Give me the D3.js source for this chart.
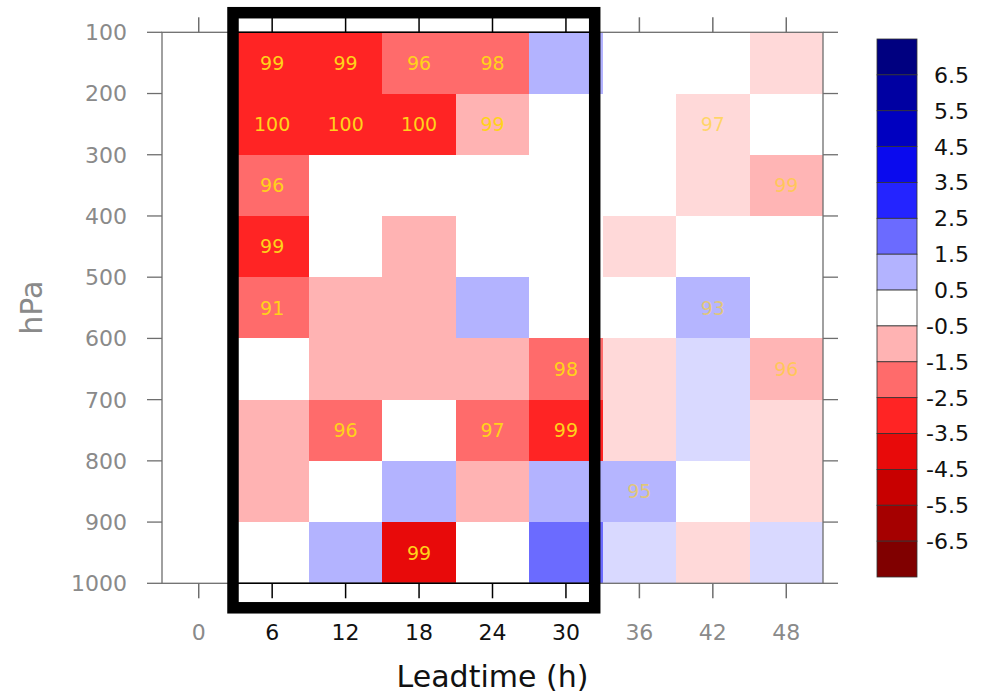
<!DOCTYPE html>
<html>
<head>
<meta charset="utf-8">
<script src="https://d3js.org/d3.v7.min.js"></script>
<style>
  body { margin: 0; background: #fff; }
  svg { display: block; font-family: "DejaVu Sans", sans-serif; }
</style>
</head>
<body>
<svg></svg>
<script>
var leadtimes = [6, 12, 18, 24, 30, 36, 42, 48];
var xTicks = [0, 6, 12, 18, 24, 30, 36, 42, 48];
var pressures = [100, 200, 300, 400, 500, 600, 700, 800, 900, 1000];

// difference class per cell, rows = layers 100-200 ... 900-1000 hPa
var diff = [
  [-3, -3, -2, -2,  1,  0,  0, -1],
  [-3, -3, -3, -1,  0,  0, -1,  0],
  [-2,  0,  0,  0,  0,  0, -1, -2],
  [-3,  0, -1,  0,  0, -1,  0,  0],
  [-2, -1, -1,  1,  0,  0,  2,  0],
  [ 0, -1, -1, -1, -2, -1,  1, -2],
  [-1, -2,  0, -2, -3, -1,  1, -1],
  [-1,  0,  1, -1,  1,  2,  0, -1],
  [ 0,  1, -4,  0,  2,  1, -1,  1]
];

// significance (%) printed in cells
var signif = [
  [99, 99, 96, 98, null, null, null, null],
  [100, 100, 100, 99, null, null, 97, null],
  [96, null, null, null, null, null, null, 99],
  [99, null, null, null, null, null, null, null],
  [91, null, null, null, null, null, 93, null],
  [null, null, null, null, 98, null, null, 96],
  [null, 96, null, 97, 99, null, null, null],
  [null, null, null, null, null, 95, null, null],
  [null, null, 99, null, null, null, null, null]
];

var cbLevels = [6.5, 5.5, 4.5, 3.5, 2.5, 1.5, 0.5, -0.5, -1.5, -2.5, -3.5, -4.5, -5.5, -6.5];
var cbColors = ["#000080", "#0000a2", "#0000c0", "#0a0aee", "#2424ff", "#6b6bff", "#b3b3ff", "#ffffff",
                "#ffb3b3", "#ff6b6b", "#ff2424", "#e80a0a", "#c80000", "#a50000", "#800000"];

// highlighted window (leadtime h, hPa)
var boxHours = [2.8, 32.35];
var boxPres = [68, 1040];

var svg = d3.select("svg")
    .attr("width", 989)
    .attr("height", 696);

var x = d3.scaleLinear()
    .domain([-3, 51])
    .range([162, 823]);
var y = d3.scaleLinear()
    .domain([100, 1000])
    .range([32.3, 583.3]);

var color = d3.scaleThreshold()
    .domain(cbLevels.slice().reverse())
    .range(cbColors.slice().reverse());

function inBox(h) {
    return h >= boxHours[0] && h <= boxHours[1];
}

var cells = [];
diff.forEach(function(row, i) {
    row.forEach(function(v, j) {
        cells.push({ lt: leadtimes[j], p0: pressures[i], p1: pressures[i + 1], v: v, s: signif[i][j] });
    });
});

svg.append("g")
    .attr("shape-rendering", "crispEdges")
    .selectAll("rect")
    .data(cells)
    .enter().append("rect")
    .attr("x", function(d) { return x(d.lt - 3); })
    .attr("y", function(d) { return y(d.p0); })
    .attr("width", x(6) - x(0))
    .attr("height", y(200) - y(100))
    .attr("fill", function(d) { return color(d.v); })
    .attr("fill-opacity", function(d) { return inBox(d.lt) ? 1 : 0.5; });

svg.append("g")
    .selectAll("text")
    .data(cells.filter(function(d) { return d.s !== null; }))
    .enter().append("text")
    .attr("x", function(d) { return x(d.lt); })
    .attr("y", function(d) { return y((d.p0 + d.p1) / 2); })
    .attr("dy", "0.36em")
    .attr("text-anchor", "middle")
    .style("font-size", "19px")
    .attr("fill", "#ffd21a")
    .attr("fill-opacity", function(d) { return inBox(d.lt) ? 1 : 0.6; })
    .text(function(d) { return d.s; });

// frame
var frame = "#6e6e6e";
svg.append("rect")
    .attr("x", x(-3))
    .attr("y", y(100))
    .attr("width", x(51) - x(-3))
    .attr("height", y(1000) - y(100))
    .attr("fill", "none")
    .attr("stroke", frame)
    .attr("stroke-width", 1.3);

[y(100), y(1000)].forEach(function(yy) {
    svg.append("line")
        .attr("x1", x(boxHours[0])).attr("x2", x(boxHours[1]))
        .attr("y1", yy).attr("y2", yy)
        .attr("stroke", "#000")
        .attr("stroke-width", 1.5);
});

// x ticks top and bottom
var tickLen = 15;
xTicks.forEach(function(t) {
    var c = inBox(t) ? "#000" : frame;
    svg.append("line")
        .attr("x1", x(t)).attr("x2", x(t))
        .attr("y1", y(1000)).attr("y2", y(1000) + tickLen)
        .attr("stroke", c).attr("stroke-width", 1.5);
    svg.append("line")
        .attr("x1", x(t)).attr("x2", x(t))
        .attr("y1", y(100)).attr("y2", y(100) - tickLen)
        .attr("stroke", c).attr("stroke-width", 1.5);
    svg.append("text")
        .attr("x", x(t))
        .attr("y", 640)
        .attr("text-anchor", "middle")
        .style("font-size", "22px")
        .attr("fill", inBox(t) ? "#111" : "#8a8a8a")
        .text(t);
});

// y ticks left and right
pressures.forEach(function(p) {
    svg.append("line")
        .attr("x1", x(-3) - tickLen).attr("x2", x(-3))
        .attr("y1", y(p)).attr("y2", y(p))
        .attr("stroke", frame).attr("stroke-width", 1.3);
    svg.append("line")
        .attr("x1", x(51)).attr("x2", x(51) + tickLen)
        .attr("y1", y(p)).attr("y2", y(p))
        .attr("stroke", frame).attr("stroke-width", 1.3);
    svg.append("text")
        .attr("x", 127)
        .attr("y", y(p))
        .attr("dy", "0.36em")
        .attr("text-anchor", "end")
        .style("font-size", "22px")
        .attr("fill", "#8a8a8a")
        .text(p);
});

svg.append("text")
    .attr("transform", "translate(42," + y(550) + ") rotate(-90)")
    .attr("text-anchor", "middle")
    .style("font-size", "30px")
    .attr("fill", "#8a8a8a")
    .text("hPa");

svg.append("text")
    .attr("x", (x(-3) + x(51)) / 2)
    .attr("y", 687)
    .attr("text-anchor", "middle")
    .style("font-size", "30px")
    .attr("fill", "#111")
    .text("Leadtime (h)");

// highlight box
svg.append("rect")
    .attr("x", x(boxHours[0]))
    .attr("y", y(boxPres[0]))
    .attr("width", x(boxHours[1]) - x(boxHours[0]))
    .attr("height", y(boxPres[1]) - y(boxPres[0]))
    .attr("fill", "none")
    .attr("stroke", "#000")
    .attr("stroke-width", 11.5);

// colorbar, top box = highest class
var cbY = d3.scaleBand()
    .domain(d3.range(cbColors.length))
    .range([39, 577]);
var cb = svg.append("g");
cb.selectAll("rect")
    .data(cbColors)
    .enter().append("rect")
    .attr("x", 877)
    .attr("y", function(d, i) { return cbY(i); })
    .attr("width", 40)
    .attr("height", cbY.bandwidth())
    .attr("fill", function(d) { return d; })
    .attr("stroke", "#333")
    .attr("stroke-width", 0.8);

cb.selectAll("text")
    .data(cbLevels)
    .enter().append("text")
    .attr("x", 969)
    .attr("y", function(d, i) { return cbY(i) + cbY.bandwidth(); })
    .attr("dy", "0.36em")
    .attr("text-anchor", "end")
    .style("font-size", "22px")
    .attr("fill", "#111")
    .text(function(d) { return d; });
</script>
</body>
</html>
